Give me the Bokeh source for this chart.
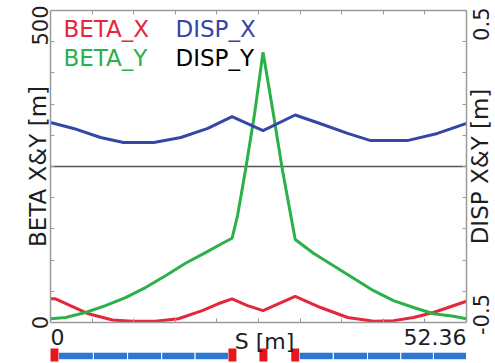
import math
from bokeh.plotting import figure
from bokeh.models import Range1d, LinearAxis, FixedTicker, Label
from bokeh.embed import file_html
from bokeh.resources import INLINE

# ---------------- data ----------------
S_MIN, S_MAX = 0.0, 52.36
BETA_MIN, BETA_MAX = 0, 500
DISP_MIN, DISP_MAX = -0.5, 0.5

x_tick_labels = ["0", "52.36"]
beta_tick_labels = ["0", "500"]
disp_tick_labels = ["-0.5", "0.5"]
beta_minor = [50, 100, 150, 200, 250, 300, 350, 400, 450]
disp_minor = [-0.4, -0.3, -0.2, -0.1, 0.0, 0.1, 0.2, 0.3, 0.4]
s_minor = [5.236, 10.472, 15.708, 20.944, 26.18, 31.416, 36.652, 41.888, 47.124]

s_bx = [0.0, 0.63, 2.5, 4.78, 7.8, 10.3, 13.2, 16.1, 19.1, 21.1, 22.85,
        24.8, 26.75, 30.8, 34.0, 37.4, 40.7, 43.2, 45.7, 48.2, 52.36]
beta_x = [38, 38, 27, 14, 4, 2, 2, 6, 19, 30, 38,
          27, 19, 42, 24, 8, 2, 3, 8, 16, 34]

s_by = [0.0, 1.89, 4.41, 6.92, 9.44, 11.96, 14.48, 16.99, 19.51, 21.65, 22.85,
        23.54, 24.54, 25.68, 26.75, 27.94, 29.2, 30.8, 33.1, 35.62, 38.14,
        40.66, 43.17, 45.69, 48.21, 50.73, 52.36]
beta_y = [6, 8, 16, 27, 40, 56, 75, 95, 112, 127, 135,
          171, 244, 334, 433, 343, 244, 133, 111, 91, 71,
          51, 35, 24, 14, 10, 6]

s_dx = [0.0, 2.9, 6.3, 9.2, 13.0, 16.4, 19.8, 22.85, 26.75, 30.8, 34.0,
        37.4, 40.3, 44.9, 48.7, 52.36]
disp_x = [0.141, 0.122, 0.093, 0.077, 0.077, 0.093, 0.122, 0.160, 0.115, 0.165, 0.137,
          0.106, 0.083, 0.083, 0.106, 0.138]

s_dy = [0.0, 52.36]
disp_y = [0.0, 0.0]

legend_names = ["BETA_X", "DISP_X", "BETA_Y", "DISP_Y"]

# lattice elements
red_start = [0.0, 22.4, 26.3, 30.3]
red_end = [1.0, 23.4, 27.3, 31.3]
blue_start = [1.0, 5.4, 9.7, 14.0, 18.2, 31.3, 35.6, 39.9, 44.1, 48.2]
blue_end = [5.4, 9.7, 14.0, 18.2, 22.4, 35.6, 39.9, 44.1, 48.2, 52.36]

# ---------------- layout (pixels in the canvas) ----------------
W, H = 494, 362
BOX_L, BOX_R = 50, 466
BOX_T, BOX_B = 10, 322
LAT_T, LAT_B = 348, 361

kx = (S_MAX - S_MIN) / (BOX_R - BOX_L)
kb = (BETA_MAX - BETA_MIN) / (BOX_B - BOX_T)
kd = (DISP_MAX - DISP_MIN) / (BOX_B - BOX_T)
kl = 1.0 / (LAT_B - LAT_T)

x_rng = Range1d(S_MIN - BOX_L * kx, S_MAX + (W - BOX_R) * kx)
beta_rng = Range1d(BETA_MIN - (H - BOX_B) * kb, BETA_MAX + BOX_T * kb)
disp_rng = Range1d(DISP_MIN - (H - BOX_B) * kd, DISP_MAX + BOX_T * kd)
lat_rng = Range1d(0 - (H - LAT_B) * kl, 1 + LAT_T * kl)

# ---------------- styles ----------------
RED = "#e3283c"
GREEN = "#2bb14a"
BLUE = "#3546a6"
FRAME = "#9a9a9a"
FONT = "DejaVu Sans"
TXT = "#1e1e1e"

p = figure(width=W, height=H, x_range=x_rng, y_range=beta_rng,
           output_backend="svg", toolbar_location=None,
           x_axis_location=None, y_axis_location=None,
           min_border_left=0, min_border_right=0, min_border_top=0, min_border_bottom=0)
p.extra_y_ranges = {"disp": disp_rng, "lat": lat_rng}
p.grid.visible = False
p.outline_line_color = None
p.background_fill_color = "white"
p.border_fill_color = "white"


def style_axis(ax):
    ax.axis_line_color = FRAME
    ax.axis_line_width = 1.5
    ax.major_tick_in = 5
    ax.major_tick_out = 0
    ax.minor_tick_in = 4
    ax.minor_tick_out = 0
    ax.major_tick_line_color = FRAME
    ax.minor_tick_line_color = FRAME
    ax.minor_tick_line_width = 1
    ax.major_label_standoff = 0


left_ax = LinearAxis(ticker=FixedTicker(ticks=[], minor_ticks=beta_minor),
                     fixed_location=S_MIN, bounds=(BETA_MIN, BETA_MAX))
right_ax = LinearAxis(y_range_name="disp", ticker=FixedTicker(ticks=[], minor_ticks=disp_minor),
                      fixed_location=S_MAX, bounds=(DISP_MIN, DISP_MAX))
bottom_ax = LinearAxis(ticker=FixedTicker(ticks=[], minor_ticks=s_minor),
                       fixed_location=BETA_MIN, bounds=(S_MIN, S_MAX))
top_ax = LinearAxis(ticker=FixedTicker(ticks=[], minor_ticks=s_minor),
                    fixed_location=BETA_MAX, bounds=(S_MIN, S_MAX))
for ax in (left_ax, right_ax, bottom_ax, top_ax):
    style_axis(ax)
p.add_layout(left_ax, "left")
p.add_layout(right_ax, "right")
p.add_layout(bottom_ax, "below")
p.add_layout(top_ax, "above")

# curves
p.line(s_dy, disp_y, y_range_name="disp", line_color="#555555", line_width=1.5)
p.line(s_bx, beta_x, line_color=RED, line_width=3)
p.line(s_by, beta_y, line_color=GREEN, line_width=3)
p.line(s_dx, disp_x, y_range_name="disp", line_color=BLUE, line_width=3)

# lattice strip
p.quad(left=blue_start, right=blue_end, bottom=0.13, top=0.72, y_range_name="lat",
       fill_color="#2a78d2", line_color="white", line_width=1)
p.quad(left=red_start, right=red_end, bottom=0, top=1, y_range_name="lat",
       fill_color="#e8141e", line_color=None)


def lab(**kw):
    base = dict(text_font=FONT, text_font_size="22px", text_color=TXT)
    base.update(kw)
    p.add_layout(Label(**base))


V = math.pi / 2
# x tick labels and title
lab(x=S_MIN, y=BETA_MIN, text=x_tick_labels[0], text_align="left", text_baseline="top", y_offset=-6)
lab(x=S_MAX, y=BETA_MIN, text=x_tick_labels[1], text_align="right", text_baseline="top", y_offset=-6)
lab(x=(S_MIN + S_MAX) / 2, y=BETA_MIN, text="S [m]", text_align="center", text_baseline="top",
    x_offset=6, y_offset=-6)
# left tick labels and title (vertical)
lab(x=S_MIN, y=BETA_MIN, text=beta_tick_labels[0], angle=V, text_align="center",
    text_baseline="alphabetic", x_offset=-11, text_font_size="21px")
lab(x=S_MIN, y=BETA_MAX, text=beta_tick_labels[1], angle=V, text_align="right",
    text_baseline="alphabetic", x_offset=-11, y_offset=5, text_font_size="21px")
lab(x=S_MIN, y=(BETA_MIN + BETA_MAX) / 2, text="BETA X&Y [m]", angle=V, text_align="center",
    text_baseline="alphabetic", x_offset=-13, text_font_size="23px")
# right tick labels and title (vertical)
lab(x=S_MAX, y=DISP_MIN, y_range_name="disp", text=disp_tick_labels[0], angle=V,
    text_align="center", text_baseline="alphabetic", x_offset=14, y_offset=8, text_font_size="21px")
lab(x=S_MAX, y=DISP_MAX, y_range_name="disp", text=disp_tick_labels[1], angle=V,
    text_align="right", text_baseline="alphabetic", x_offset=14, y_offset=3, text_font_size="21px")
lab(x=S_MAX, y=(DISP_MIN + DISP_MAX) / 2, y_range_name="disp", text="DISP X&Y [m]",
    angle=V, text_align="center", text_baseline="alphabetic", x_offset=13, text_font_size="23px")

# legend texts
leg_colors = [RED, BLUE, GREEN, "black"]
leg_dx = [13, 125, 13, 125]
leg_dy = [-5, -5, -34, -34]
for name, c, dx, dy in zip(legend_names, leg_colors, leg_dx, leg_dy):
    lab(x=S_MIN, y=BETA_MAX, text=name, text_color=c, text_align="left", text_baseline="top",
        x_offset=dx, y_offset=dy, text_font_size="23px")

open("out.html", "w").write(file_html(p, INLINE))
